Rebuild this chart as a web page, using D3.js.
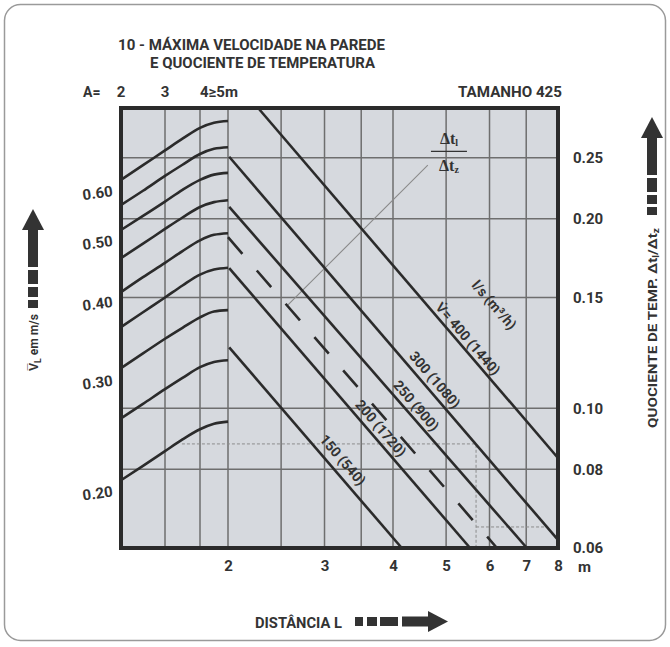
<!DOCTYPE html>
<html><head><meta charset="utf-8">
<script src="https://cdn.jsdelivr.net/npm/d3@7"></script>
<style>
html,body{margin:0;padding:0;background:#fff;}
svg{display:block;}
text{font-family:'Roboto','Liberation Sans',sans-serif;font-weight:bold;fill:#333;}
</style></head><body>
<svg id="c" width="670" height="647"></svg>
<script>
// ---------- data ----------
const titleLines = ["10 - MÁXIMA VELOCIDADE NA PAREDE", "E QUOCIENTE DE TEMPERATURA"];
const sizeLabel = "TAMANHO 425";
const aTicks = [2, 3, 4];
const aTickLabels = ["2", "3", "4≥5m"];
const aGrid = [3, 4];
const curveA = [2, 2.5, 3, 3.5, 4, 4.5, 5];
const velocityCurve1 = [0.615, 0.649, 0.685, 0.715, 0.744, 0.758, 0.763];
const velocityCurve2 = [0.561, 0.591, 0.624, 0.650, 0.676, 0.689, 0.693];
const velocityCurve3 = [0.512, 0.539, 0.568, 0.593, 0.615, 0.627, 0.631];
const velocityCurve4 = [0.462, 0.487, 0.514, 0.536, 0.557, 0.567, 0.571];
const velocityCurve5 = [0.408, 0.431, 0.454, 0.474, 0.493, 0.503, 0.506];
const velocityCurve6 = [0.359, 0.379, 0.400, 0.418, 0.435, 0.443, 0.446];
const velocityCurve7 = [0.309, 0.326, 0.344, 0.358, 0.372, 0.380, 0.382];
const velocityCurve8 = [0.257, 0.271, 0.286, 0.298, 0.310, 0.316, 0.318];
const velocityCurve9 = [0.205, 0.216, 0.228, 0.238, 0.247, 0.252, 0.254];
const velocityCurves = [velocityCurve1, velocityCurve2, velocityCurve3, velocityCurve4, velocityCurve5,
                        velocityCurve6, velocityCurve7, velocityCurve8, velocityCurve9];
const velocityTicks = [0.6, 0.5, 0.4, 0.3, 0.2];
const lengthTicks = [2, 3, 4, 5, 6, 7, 8];
const lengthGrid = [2, 2.5, 3, 3.5, 4, 5, 6, 7];
const ratioTicks = [0.25, 0.2, 0.15, 0.1, 0.08, 0.06];
const ratioGrid = [0.25, 0.2, 0.15, 0.1, 0.08];
// flow lines (L in m, quotient Δt/Δtz)
const lineStartL = [2.27, 2.01, 2.01, 2.0, 2.01, 2.01];
const lineStartQ = [0.300, 0.251, 0.209, 0.187, 0.167, 0.125];
const lineEndL   = [8, 8, 7.02, 6.19, 5.53, 4.15];
const lineEndQ   = [0.0834, 0.0618, 0.06, 0.06, 0.06, 0.06];
const lineDashed = [false, false, false, true, false, false];
const lineLabels = ["l/s (m³/h)", "V̇= 400 (1440)", "300 (1080)", "250 (900)", "200 (1720)", "150 (540)"];
const labelL = [6.12, 5.48, 4.77, 4.41, 3.80, 3.24];
const labelQ = [0.146, 0.129, 0.111, 0.101, 0.093, 0.0828];
// annotations
const pointerL = [2.573, 4.63];
const pointerQ = [0.146, 0.2434];
const fractionL = 5.06, fractionQ = 0.256;
const guide1L = [1.648, 5.67, 5.67];
const guide1Q = [0.0878, 0.0878, 0.06];
const guide2L = [5.67, 7.64];
const guide2Q = [0.0648, 0.0648];

// ---------- layout ----------
const svg = d3.select("#c");
const P = {left: 121, right: 558, top: 108, bottom: 548};
const xA = d3.scaleLinear().domain([2, 3, 4, 5]).range([121, 165, 200, 228]);
const xL = d3.scaleLog().domain([2, 8]).range([228, P.right]);
const yQ = d3.scaleLog().domain([0.06, 0.30]).range([P.bottom, P.top]);
const yV = d3.scaleLog().domain([0.16, 0.80]).range([P.bottom, P.top]);
const ink = "#2b2b2b", gridC = "#6e6e6e";

// outer rounded frame
svg.append("rect").attr("x", 4.5).attr("y", 4.5).attr("width", 661).attr("height", 636)
  .attr("rx", 16).attr("fill", "#fff").attr("stroke", "#9a9a9a").attr("stroke-width", 1.5);

// plot background
svg.append("rect").attr("x", P.left).attr("y", P.top).attr("width", P.right - P.left)
  .attr("height", P.bottom - P.top).attr("fill", "#d6d9de");

const g = svg.append("g");
// grid
g.selectAll(".ga").data(aGrid).join("line")
  .attr("x1", d => xA(d)).attr("x2", d => xA(d)).attr("y1", P.top).attr("y2", P.bottom)
  .attr("stroke", gridC).attr("stroke-width", 1.5);
g.selectAll(".gl").data(lengthGrid).join("line")
  .attr("x1", d => xL(d)).attr("x2", d => xL(d)).attr("y1", P.top).attr("y2", P.bottom)
  .attr("stroke", gridC).attr("stroke-width", 1.5);
g.selectAll(".gq").data(ratioGrid).join("line")
  .attr("x1", P.left).attr("x2", P.right).attr("y1", d => yQ(d)).attr("y2", d => yQ(d))
  .attr("stroke", gridC).attr("stroke-width", 1.5);

// dotted guide lines
const lineLQ = d3.line().x(d => xL(d[0])).y(d => yQ(d[1]));
g.append("path").attr("d", lineLQ(guide1L.map((l, i) => [l, guide1Q[i]])))
  .attr("fill", "none").attr("stroke", "#8c8c8c").attr("stroke-width", 1).attr("stroke-dasharray", "3 2");
g.append("path").attr("d", lineLQ(guide2L.map((l, i) => [l, guide2Q[i]])))
  .attr("fill", "none").attr("stroke", "#8c8c8c").attr("stroke-width", 1).attr("stroke-dasharray", "3 2");

// pointer
g.append("path").attr("d", lineLQ(pointerL.map((l, i) => [l, pointerQ[i]])))
  .attr("fill", "none").attr("stroke", "#8a8a8a").attr("stroke-width", 1.1);

// velocity curves (A region)
const curveGen = d3.line().x((d, i) => xA(curveA[i])).y(d => yV(d)).curve(d3.curveMonotoneX);
g.selectAll(".vc").data(velocityCurves).join("path")
  .attr("d", d => curveGen(d)).attr("fill", "none").attr("stroke", ink).attr("stroke-width", 2.6);

// flow lines
g.selectAll(".fl").data(lineStartL).join("path")
  .attr("d", (d, i) => lineLQ([[lineStartL[i], lineStartQ[i]], [lineEndL[i], lineEndQ[i]]]))
  .attr("fill", "none").attr("stroke", ink).attr("stroke-width", 2.6)
  .attr("stroke-dasharray", (d, i) => lineDashed[i] ? "22 22" : null);

// line labels
const ang = Math.atan2(yQ(lineEndQ[0]) - yQ(lineStartQ[0]), xL(lineEndL[0]) - xL(lineStartL[0])) * 180 / Math.PI;
g.selectAll(".lbl").data(lineLabels).join("text")
  .attr("transform", (d, i) => `translate(${xL(labelL[i])},${yQ(labelQ[i])}) rotate(${ang})`)
  .attr("text-anchor", "middle").attr("dy", "0.35em").style("font-size", "14px").text(d => d);

// fraction Δt / Δtz
const fx = xL(fractionL), fy = yQ(fractionQ);
const frac = g.append("g").attr("transform", `translate(${fx},${fy})`);
frac.append("line").attr("x1", -18).attr("x2", 18).attr("stroke", "#333").attr("stroke-width", 1.4);
const t1 = frac.append("text").attr("text-anchor", "middle").attr("y", -7)
  .style("font-family", "'Liberation Serif',serif").style("font-weight", "bold").style("font-size", "16px");
t1.append("tspan").text("Δt"); t1.append("tspan").attr("dy", 2).style("font-size", "10px").text("l");
const t2 = frac.append("text").attr("text-anchor", "middle").attr("y", 20)
  .style("font-family", "'Liberation Serif',serif").style("font-weight", "bold").style("font-size", "16px");
t2.append("tspan").text("Δt"); t2.append("tspan").attr("dy", 2).style("font-size", "10px").text("z");

// plot frame
svg.append("rect").attr("x", P.left).attr("y", P.top).attr("width", P.right - P.left)
  .attr("height", P.bottom - P.top).attr("fill", "none").attr("stroke", ink).attr("stroke-width", 4);

// axes
const axL = svg.append("g").attr("transform", `translate(${P.left},0)`)
  .call(d3.axisLeft(yV).tickValues(velocityTicks).tickFormat(d3.format(".2f")).tickSize(0).tickPadding(9));
axL.select(".domain").remove();
axL.selectAll("text").style("font-size", "15px").attr("transform", "rotate(-8,-9,0)").attr("dy", "0.6em");

const axR = svg.append("g").attr("transform", `translate(${P.right},0)`)
  .call(d3.axisRight(yQ).tickValues(ratioTicks).tickFormat(d3.format(".2f")).tickSize(0).tickPadding(15));
axR.select(".domain").remove();
axR.selectAll("text").style("font-size", "15px");

const axB = svg.append("g").attr("transform", `translate(0,${P.bottom})`)
  .call(d3.axisBottom(xL).tickValues(lengthTicks).tickFormat(d3.format("d")).tickSize(0).tickPadding(12));
axB.select(".domain").remove();
axB.selectAll("text").style("font-size", "15px");
svg.append("text").attr("x", xL(8) + 20).attr("y", P.bottom + 24).style("font-size", "15px").text("m");

// top A labels
svg.append("text").attr("x", 83).attr("y", 97).style("font-size", "14px").text("A=");
svg.selectAll(".at").data(aTicks).join("text")
  .attr("x", d => xA(d)).attr("y", 97).attr("text-anchor", (d, i) => i === 2 ? "start" : "middle")
  .style("font-size", "15px").text((d, i) => aTickLabels[i]);
svg.append("text").attr("x", 562).attr("y", 97).attr("text-anchor", "end")
  .attr("textLength", 104).attr("lengthAdjust", "spacingAndGlyphs").style("font-size", "15px").text(sizeLabel);

// titles
svg.append("text").attr("x", 118).attr("y", 50).attr("textLength", 267).attr("lengthAdjust", "spacingAndGlyphs")
  .style("font-size", "15.5px").text(titleLines[0]);
svg.append("text").attr("x", 150).attr("y", 68).attr("textLength", 225).attr("lengthAdjust", "spacingAndGlyphs")
  .style("font-size", "15.5px").text(titleLines[1]);

// bottom title + arrow
svg.append("text").attr("x", 255).attr("y", 628).attr("textLength", 87).attr("lengthAdjust", "spacingAndGlyphs")
  .style("font-size", "15px").text("DISTÂNCIA L");
const arrowC = "#333";
const ab = svg.append("g").attr("fill", arrowC);
ab.append("rect").attr("x", 355).attr("y", 617).attr("width", 8).attr("height", 9);
ab.append("rect").attr("x", 367).attr("y", 617).attr("width", 10).attr("height", 9);
ab.append("rect").attr("x", 380).attr("y", 617).attr("width", 18).attr("height", 9);
ab.append("rect").attr("x", 402).attr("y", 616.5).attr("width", 28).attr("height", 10);
ab.append("path").attr("d", "M428,611L448,621.5L428,632Z");

// left title + arrow
const lt = svg.append("text").attr("transform", "translate(38,371) rotate(-90)").style("font-size", "13px")
  .attr("textLength", 57).attr("lengthAdjust", "spacingAndGlyphs");
lt.append("tspan").text("V̅");
lt.append("tspan").attr("dy", 3).style("font-size", "9px").text("L");
lt.append("tspan").attr("dy", -3).text(" em m/s");
const al = svg.append("g").attr("fill", arrowC);
al.append("rect").attr("x", 28).attr("y", 300).attr("width", 10).attr("height", 8);
al.append("rect").attr("x", 28).attr("y", 287).attr("width", 10).attr("height", 10);
al.append("rect").attr("x", 28).attr("y", 270).attr("width", 10).attr("height", 14);
al.append("rect").attr("x", 28).attr("y", 228).attr("width", 10).attr("height", 39);
al.append("path").attr("d", "M22,230L33,209L44,230Z");

// right title + arrow
const rt = svg.append("text").attr("transform", "translate(657,428) rotate(-90)").style("font-size", "13.5px")
  .attr("textLength", 200).attr("lengthAdjust", "spacingAndGlyphs");
rt.append("tspan").text("QUOCIENTE DE TEMP.  Δt");
rt.append("tspan").attr("dy", 2).style("font-size", "9px").text("l");
rt.append("tspan").attr("dy", -2).text("/Δt");
rt.append("tspan").attr("dy", 2).style("font-size", "9px").text("z");
const ar = svg.append("g").attr("fill", arrowC);
ar.append("rect").attr("x", 647).attr("y", 207).attr("width", 10).attr("height", 8);
ar.append("rect").attr("x", 647).attr("y", 195).attr("width", 10).attr("height", 9);
ar.append("rect").attr("x", 647).attr("y", 178).attr("width", 10).attr("height", 14);
ar.append("rect").attr("x", 647).attr("y", 136).attr("width", 10).attr("height", 39);
ar.append("path").attr("d", "M641,138L652,117L663,138Z");
</script>
</body></html>
